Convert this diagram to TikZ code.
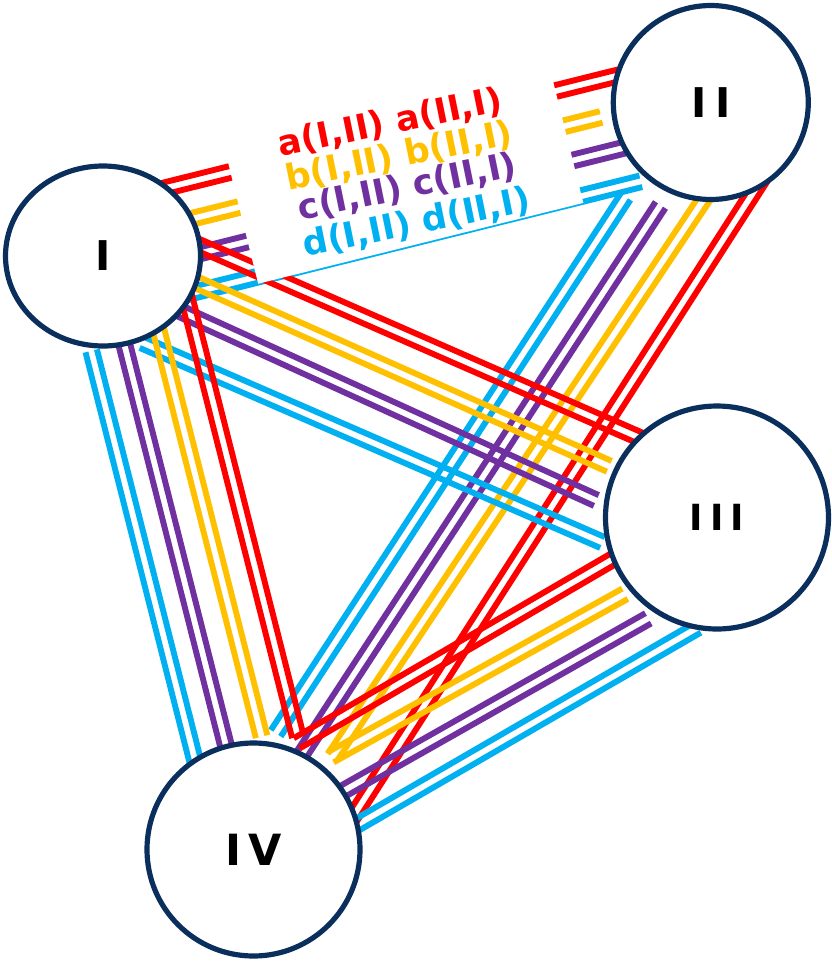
\documentclass[tikz,border=0pt]{standalone}
\usepackage{fontspec}
\setmainfont{DejaVu Sans}
\usetikzlibrary{calc,shapes.geometric}
\definecolor{cred}{HTML}{FF0000}
\definecolor{cyel}{HTML}{FFC000}
\definecolor{cpur}{HTML}{7030A0}
\definecolor{ccya}{HTML}{00B0F0}
\definecolor{navy}{RGB}{10,47,92}
\newcommand\linkpair[4]{%
  \coordinate (#1s) at #3;
  \coordinate (#1e) at #4;
  \draw[link,#2] ($(#1s)!5.9pt!90:(#1e)$) -- ($(#1e)!5.9pt!-90:(#1s)$);
  \draw[link,#2] ($(#1s)!5.9pt!-90:(#1e)$) -- ($(#1e)!5.9pt!90:(#1s)$);
}
\begin{document}
\begin{tikzpicture}[x=1pt,y=-1pt,
  link/.style={line width=5.9pt},
  circ/.style={draw=navy, line width=5.2pt, fill=white, inner sep=0pt, text=black,
    font=\bfseries\fontsize{41}{41}\selectfont},
  lbl/.style={inner sep=0pt, font=\bfseries\fontsize{35}{35}\selectfont, rotate=11.5}]
\useasboundingbox (0,0) rectangle (832,962);
\fill[white] (0,0) rectangle (832,962);
% I - II
\linkpair{a12}{cred}{(90.7,206.7)}{(619.6,75.1)}
\linkpair{b12}{cyel}{(99.5,241.8)}{(601.2,117.0)}
\linkpair{c12}{cpur}{(108.0,276.2)}{(625.2,147.5)}
\linkpair{d12}{ccya}{(116.9,311.7)}{(640.9,181.3)}
% II - IV
\linkpair{a24}{cred}{(762.5,178.2)}{(345.2,828.8)}
\linkpair{b24}{cyel}{(714.7,183.1)}{(332.5,757)}
\linkpair{c24}{cpur}{(660.5,205)}{(295.1,764.3)}
\linkpair{d24}{ccya}{(625.5,196.7)}{(275.8,733.3)}
% I - III
\linkpair{a13}{cred}{(107.5,205.1)}{(657.4,445.6)}
\linkpair{b13}{cyel}{(107,242.6)}{(609.2,466.3)}
\linkpair{c13}{cpur}{(93.2,271.6)}{(596.3,500.5)}
\linkpair{d13}{ccya}{(142,342.5)}{(602.5,542.5)}
% I - IV
\linkpair{a14}{cred}{(171.6,238.6)}{(297.9,736.8)}
\linkpair{b14}{cyel}{(137.5,247.3)}{(261.6,736.7)}
\linkpair{c14}{cpur}{(123.6,341.6)}{(239.5,799.1)}
\linkpair{d14}{ccya}{(91.2,350.8)}{(206.9,807.3)}
% III - IV
\linkpair{a34}{cred}{(662.8,530)}{(296.7,743.3)}
\linkpair{b34}{cyel}{(625,593.8)}{(330.8,757.2)}
\linkpair{c34}{cpur}{(648.3,618.3)}{(318.9,804.8)}
\linkpair{d34}{ccya}{(697.9,627.5)}{(349.5,829.2)}
% label box
\fill[white] (211.3,95.0) -- (536.4,14.2) -- (583.3,202.9) -- (258.2,283.7) -- cycle;
\node[lbl, text=cred] (ta) at (390.3,123) {a(I,II) a(II,I)};
\node[lbl, text=cyel] (tb) at (399.2,156.5) {b(I,II) b(II,I)};
\node[lbl, text=cpur] (tc) at (407.5,187.5) {c(I,II) c(II,I)};
\node[lbl, text=ccya] (td) at (416.7,223.2) {d(I,II) d(II,I)};
% nodes
\node[circ, ellipse, minimum width=195pt, minimum height=180pt] (I) at (103,256) {I};
\node[circ, ellipse, minimum width=195pt, minimum height=194pt] (II) at (710.8,102.5) {I\kern8.5pt I};
\node[circ, circle, minimum size=223pt, font=\bfseries\fontsize{36}{36}\selectfont] (III) at (717,517.5) {I\kern7pt I\kern7pt I};
\node[circ, circle, minimum size=213pt, font=\bfseries\fontsize{43}{43}\selectfont] (IV) at (253.5,849.5) {I\kern7pt V};
\end{tikzpicture}
\end{document}
